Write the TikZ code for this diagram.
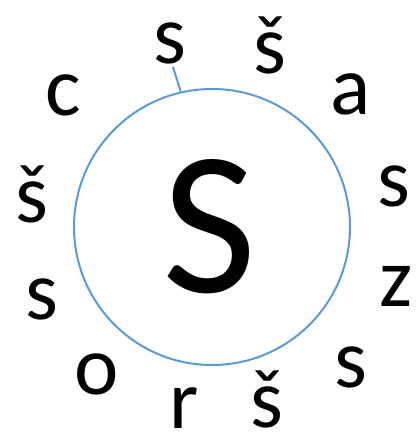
\documentclass[tikz,border=0pt]{standalone}
\usepackage{fontspec}
\setmainfont{Carlito}
\definecolor{ringblue}{HTML}{5B9BD5}
\begin{document}
\begin{tikzpicture}[x=1pt,y=-1pt,
  letter/.style={inner sep=0pt,anchor=base,font=\fontsize{84}{84}\selectfont},
  ring/.style={draw=ringblue,line width=2pt,circle,minimum size=276pt,inner sep=0pt}]
\useasboundingbox (0,0) rectangle (417,433);
\node[ring] (c) at (212,227) {};
\node[inner sep=0pt,anchor=base,font=\fontsize{205}{205}\selectfont] (big) at (210,292) {S};
\node[letter] (l1) at (170,64) {s};
\node[letter] (l2) at (270,74) {š};
\node[letter] (l3) at (351,114) {a};
\node[letter] (l4) at (394,206) {s};
\node[letter] (l5) at (396,306) {z};
\node[letter] (l6) at (351,387) {s};
\node[letter] (l7) at (267,427) {š};
\node[letter] (l8) at (184,428) {r};
\node[letter] (l9) at (97,394) {o};
\node[letter] (l10) at (42,319) {s};
\node[letter] (l11) at (32,222) {š};
\node[letter] (l12) at (63,116) {c};
\coordinate (t) at (173,67);
\draw[ringblue,line width=2pt] (t) -- (c.103);
\end{tikzpicture}
\end{document}
